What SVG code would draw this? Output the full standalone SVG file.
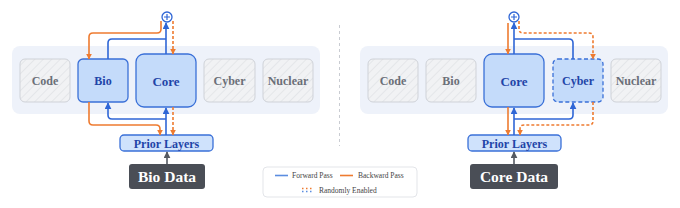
<svg xmlns="http://www.w3.org/2000/svg" width="680" height="208" viewBox="0 0 680 208" font-family="'Liberation Serif', 'Times New Roman', 'DejaVu Serif', serif">
<defs>
<pattern id="hatch" width="6" height="6" patternUnits="userSpaceOnUse" patternTransform="rotate(45)">
<rect width="6" height="6" fill="#f1f2f4"/>
<line x1="0" y1="0" x2="0" y2="6" stroke="#dcdee2" stroke-width="1.2"/>
</pattern>
<marker id="ab" viewBox="0 0 10 10" refX="9" refY="5" markerWidth="7" markerHeight="7" markerUnits="userSpaceOnUse" orient="auto"><path d="M0 0L10 5L0 10z" fill="#2f66d6"/></marker>
<marker id="ao" viewBox="0 0 10 10" refX="9" refY="5" markerWidth="6" markerHeight="6" markerUnits="userSpaceOnUse" orient="auto"><path d="M0 0L10 5L0 10z" fill="#ee7b30"/></marker>
<marker id="ag" viewBox="0 0 10 10" refX="9" refY="5" markerWidth="7" markerHeight="7" markerUnits="userSpaceOnUse" orient="auto"><path d="M0 0L10 5L0 10z" fill="#555a62"/></marker>
</defs>
<style>
text{font-family:'Liberation Serif','Times New Roman','DejaVu Serif',serif}
.panel{fill:#eef2fa}
.off{fill:url(#hatch);stroke:#cfd2d8;stroke-width:1}
.offt{font-weight:bold;font-size:12px;fill:#6b6f78;text-anchor:middle}
.on{fill:#c4dbfa;stroke:#3a70d8;stroke-width:1.3}
.ont{font-weight:bold;fill:#1f45a8;text-anchor:middle}
.prior{fill:#cfe2fc;stroke:#3a70d8;stroke-width:1.3}
.data{fill:#4a4e56}
.datat{font-weight:bold;font-size:15.5px;fill:#ffffff;text-anchor:middle}
.fb{fill:none;stroke:#2f66d6;stroke-width:1.6}
.bo{fill:none;stroke:#ee7b30;stroke-width:1.6}
.bd{fill:none;stroke:#ee7b30;stroke-width:1.6;stroke-dasharray:3 2}
.gr{fill:none;stroke:#555a62;stroke-width:1.6}
.leg{font-size:7.5px;fill:#444}
</style>
<rect class="panel" x="12" y="46" width="308" height="68" rx="8"/>
<rect class="panel" x="360" y="46" width="308" height="68" rx="8"/>
<line x1="339.5" y1="25" x2="339.5" y2="146" stroke="#c9ccd2" stroke-width="1" stroke-dasharray="3 3"/>

<g id="left-code"><rect class="off" x="20" y="59" width="50" height="43" rx="5"/><text class="offt" x="45" y="85">Code</text></g>
<g id="left-bio"><rect class="on" x="78" y="59" width="50" height="43" rx="5"/><text class="ont" x="103" y="85" font-size="12">Bio</text></g>
<g id="left-core"><rect class="on" x="136" y="54" width="60" height="53" rx="8"/><text class="ont" x="166" y="85.5" font-size="13">Core</text></g>
<g id="left-cyber"><rect class="off" x="204" y="59" width="51" height="43" rx="5"/><text class="offt" x="229.5" y="85">Cyber</text></g>
<g id="left-nuclear"><rect class="off" x="263" y="59" width="50" height="43" rx="5"/><text class="offt" x="288" y="85">Nuclear</text></g>
<g id="left-plus"><circle cx="167" cy="17" r="5" fill="#ffffff" stroke="#2f66d6" stroke-width="1.3"/><path d="M164 17H170M167 14V20" stroke="#2f66d6" stroke-width="1.2"/></g>
<g id="left-prior"><rect class="prior" x="120" y="135" width="93" height="16" rx="4"/><text class="ont" x="166.5" y="147.5" font-size="12">Prior Layers</text></g>
<g id="left-data"><rect class="data" x="129" y="164" width="76" height="25" rx="3"/><text class="datat" x="167" y="182">Bio Data</text></g>

<g id="right-code"><rect class="off" x="368" y="59" width="50" height="43" rx="5"/><text class="offt" x="393" y="85">Code</text></g>
<g id="right-bio"><rect class="off" x="426" y="59" width="50" height="43" rx="5"/><text class="offt" x="451" y="85">Bio</text></g>
<g id="right-core"><rect class="on" x="484" y="54" width="60" height="53" rx="8"/><text class="ont" x="514" y="85.5" font-size="13">Core</text></g>
<g id="right-cyber"><rect class="on" x="553" y="59" width="50" height="43" rx="5" stroke-dasharray="4 2.5"/><text class="ont" x="578" y="85" font-size="12">Cyber</text></g>
<g id="right-nuclear"><rect class="off" x="611" y="59" width="50" height="43" rx="5"/><text class="offt" x="636" y="85">Nuclear</text></g>
<g id="right-plus"><circle cx="514" cy="17" r="5" fill="#ffffff" stroke="#2f66d6" stroke-width="1.3"/><path d="M511 17H517M514 14V20" stroke="#2f66d6" stroke-width="1.2"/></g>
<g id="right-prior"><rect class="prior" x="468" y="135" width="93" height="16" rx="4"/><text class="ont" x="514.5" y="147.5" font-size="12">Prior Layers</text></g>
<g id="right-data"><rect class="data" x="470" y="164" width="88" height="25" rx="3"/><text class="datat" x="514" y="182">Core Data</text></g>

<g id="connectors">
<path class="fb" d="M166 135V108" marker-end="url(#ab)"/>
<path class="fb" d="M166 54V23" marker-end="url(#ab)"/>
<path class="fb" d="M108 59V43Q108 39 112 39H166"/>
<path class="fb" d="M166 119H112Q108 119 108 115V103" marker-end="url(#ab)"/>
<path class="bo" d="M161 21V29Q161 33 157 33H93Q89 33 89 37V59" marker-end="url(#ao)"/>
<path class="bo" d="M89 102V121Q89 125 93 125H156Q160 125 160 129V135" marker-end="url(#ao)"/>
<path class="bd" d="M173 21V54" marker-end="url(#ao)"/>
<path class="bd" d="M173 107V135" marker-end="url(#ao)"/>
<path class="gr" d="M167 164V152" marker-end="url(#ag)"/>

<path class="fb" d="M514 135V108" marker-end="url(#ab)"/>
<path class="fb" d="M514 54V23" marker-end="url(#ab)"/>
<path class="fb" d="M573 59V43Q573 39 569 39H514"/>
<path class="fb" d="M514 119H569Q573 119 573 115V103" marker-end="url(#ab)"/>
<path class="bo" d="M508 23V54" marker-end="url(#ao)"/>
<path class="bo" d="M508 107V135" marker-end="url(#ao)"/>
<path class="bd" d="M519 21V29Q519 33 523 33H589Q593 33 593 37V59" marker-end="url(#ao)"/>
<path class="bd" d="M593 102V121Q593 125 589 125H524Q520 125 520 129V135" marker-end="url(#ao)"/>
<path class="gr" d="M514 164V152" marker-end="url(#ag)"/>
</g>

<g id="legend">
<rect x="263" y="167" width="154" height="30" rx="4" fill="#ffffff" stroke="#e3e5e9" stroke-width="1"/>
<line x1="275" y1="175.5" x2="288" y2="175.5" stroke="#5b8de0" stroke-width="1.6"/>
<text class="leg" x="292" y="178">Forward Pass</text>
<line x1="340" y1="175.5" x2="353" y2="175.5" stroke="#ee7b30" stroke-width="1.6"/>
<text class="leg" x="358" y="178">Backward Pass</text>
<line x1="302" y1="188.5" x2="313" y2="188.5" stroke="#ee7b30" stroke-width="1.3" stroke-dasharray="1.5 2.5"/>
<line x1="302" y1="191.5" x2="313" y2="191.5" stroke="#5b8de0" stroke-width="1.3" stroke-dasharray="1.5 2.5"/>
<text class="leg" x="319" y="192.5">Randomly Enabled</text>
</g>
</svg>
